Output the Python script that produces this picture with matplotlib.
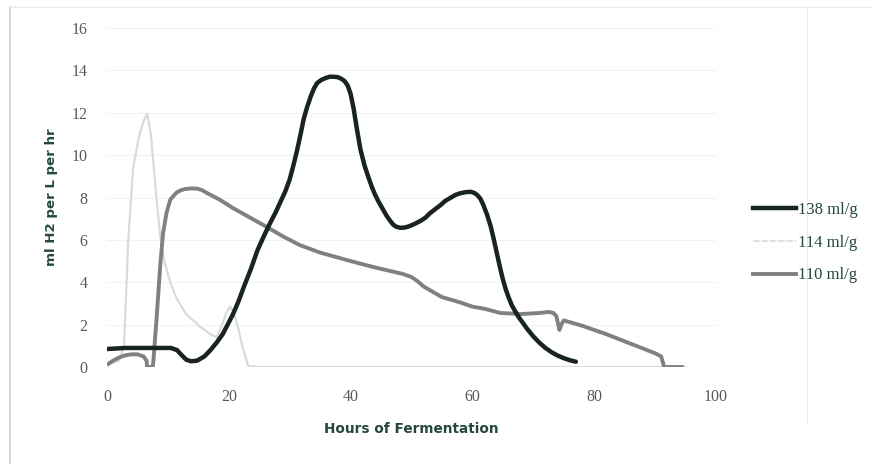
import matplotlib.pyplot as plt
from matplotlib.lines import Line2D

# --- data ---
hours_138 = [0, 3, 6, 9, 10.5, 11.5, 12.3, 13, 13.8, 14.8, 16, 17, 18, 19, 20, 20.7, 21.6,
             22.5, 23.6, 24.7, 25.8, 26.8, 27.7, 28.5, 29.3, 30, 30.6, 31.2, 31.8, 32.3, 32.9,
             33.5, 34, 34.5, 35.2, 36, 36.6, 37.2, 37.9, 38.5, 39, 39.5, 40, 40.5, 41, 41.6,
             42.3, 43, 43.5, 44, 44.6, 45.3, 45.9, 46.5, 47, 47.5, 48.2, 48.8, 49.5, 50.5,
             51.5, 52.3, 53, 53.9, 54.8, 55.6, 56.5, 57.2, 58, 58.8, 59.7, 60.3, 60.8, 61.3,
             61.8, 62.4, 63, 63.5, 64, 64.5, 65, 65.5, 66, 66.5, 67, 67.5, 68, 68.5, 69, 70,
             71, 72, 73, 74, 75, 76, 77]
rate_138 = [0.85, 0.9, 0.9, 0.9, 0.9, 0.8, 0.55, 0.35, 0.27, 0.3, 0.5, 0.8, 1.15, 1.55, 2.1,
            2.5, 3.1, 3.8, 4.6, 5.5, 6.2, 6.8, 7.3, 7.8, 8.3, 8.85, 9.5, 10.2, 11.0, 11.7, 12.3,
            12.8, 13.15, 13.4, 13.55, 13.65, 13.7, 13.7, 13.68, 13.6, 13.5, 13.3, 12.9, 12.2,
            11.3, 10.3, 9.5, 8.9, 8.5, 8.15, 7.8, 7.45, 7.15, 6.9, 6.72, 6.62, 6.57, 6.58,
            6.63, 6.75, 6.9, 7.05, 7.25, 7.45, 7.65, 7.85, 8.0, 8.12, 8.2, 8.25, 8.27, 8.22,
            8.12, 7.95, 7.65, 7.2, 6.65, 6.05, 5.4, 4.75, 4.15, 3.65, 3.25, 2.9, 2.65, 2.4,
            2.2, 2.0, 1.8, 1.45, 1.15, 0.9, 0.7, 0.54, 0.42, 0.32, 0.25]

hours_114 = [0, 1, 2, 2.8, 3.5, 4.3, 5.2, 6, 6.6, 7.2, 8, 8.7, 9.5, 10.5, 11.5, 13, 15.3, 17,
             18, 18.8, 19.5, 20.2, 20.8, 21.5, 22.3, 23.2, 25, 40, 60, 75, 92, 95]
rate_114 = [0.15, 0.2, 0.3, 1.0, 6.0, 9.4, 10.8, 11.6, 11.95, 11.0, 8.4, 6.3, 4.9, 3.9, 3.2,
            2.5, 1.9, 1.55, 1.4, 1.9, 2.5, 2.85, 2.6, 1.9, 0.9, 0.05, 0, 0, 0, 0, 0, 0]

hours_110 = [0, 1, 2, 3, 4, 5, 6, 6.5, 6.6, 7.5, 7.6, 8.2, 8.7, 9.2, 9.8, 10.4, 11, 11.5,
             12.2, 12.8, 13.8, 14.8, 15.6, 16.5, 18.5, 20.7, 23.5, 26.3, 29, 31.7, 35, 40, 44,
             47, 48.5, 50, 51, 52, 55, 58, 60, 62, 64.6, 68, 71, 72.5, 73.3, 73.8, 74.1, 74.3,
             74.6, 75, 78, 82, 86, 90, 91, 91.5, 93, 94.7]
rate_110 = [0.1, 0.3, 0.45, 0.55, 0.6, 0.6, 0.5, 0.3, 0.0, 0.0, 0.2, 2.5, 4.6, 6.3, 7.3,
            7.9, 8.1, 8.25, 8.35, 8.4, 8.43, 8.42, 8.35, 8.2, 7.9, 7.5, 7.05, 6.6, 6.15, 5.75,
            5.4, 5.0, 4.7, 4.5, 4.4, 4.25, 4.05, 3.8, 3.3, 3.05, 2.85, 2.75, 2.55, 2.5, 2.55,
            2.6, 2.55, 2.4, 2.0, 1.75, 2.0, 2.2, 1.95, 1.55, 1.1, 0.65, 0.5, 0.0, 0.0, 0.0]

labels = ['138 ml/g', '114 ml/g', '110 ml/g']
colors = ['#18241d', '#dadada', '#808080']
widths = [3.2, 1.6, 2.8]

label_color = '#24483a'
tick_color = '#595959'

fig = plt.figure(figsize=(8.71, 4.66), dpi=100)
ax = fig.add_axes([0.1228, 0.2124, 0.6992, 0.7275])

ax.plot(hours_110, rate_110, color=colors[2], linewidth=widths[2], solid_capstyle='butt',
        solid_joinstyle='round', zorder=3)
ax.plot(hours_114, rate_114, color=colors[1], linewidth=widths[1], solid_joinstyle='round',
        zorder=2)
ax.plot(hours_138, rate_138, color=colors[0], linewidth=widths[0], solid_capstyle='round',
        solid_joinstyle='round', zorder=4)

ax.set_xlim(0, 100)
ax.set_ylim(0, 16)
ax.set_xticks(range(0, 101, 20))
ax.set_yticks(range(0, 17, 2))
ax.grid(axis='y', color='#f2f2f2', linewidth=0.8)
ax.set_axisbelow(True)
for s in ax.spines.values():
    s.set_visible(False)
ax.tick_params(length=0, labelsize=11.5, colors=tick_color)
ax.tick_params(axis='y', pad=14)
ax.tick_params(axis='x', pad=16)
for t in ax.get_xticklabels() + ax.get_yticklabels():
    t.set_family('Liberation Serif')

ax.set_xlabel('Hours of Fermentation', fontsize=9.8, color=label_color,
              fontweight='bold', labelpad=12)
ax.set_ylabel('ml H2 per L per hr', fontsize=9.6, color=label_color,
              fontweight='bold', labelpad=10)

handles = [Line2D([], [], color=c, linewidth=w) for c, w in zip(colors, widths)]
handles[1] = Line2D([], [], color=colors[1], linewidth=1.2, linestyle=(0, (4, 1)))
leg = fig.legend(handles, labels, loc='center left', bbox_to_anchor=(0.847, 0.479),
                 frameon=False, handlelength=2.6, handletextpad=0.1, labelspacing=1.0,
                 prop={'family': 'Liberation Serif', 'size': 12})
for t in leg.get_texts():
    t.set_color(label_color)

# chart frame and faint stray line
fig.add_artist(Line2D([0.0115, 0.0115], [0.006, 0.985], color='#c9d2cc', linewidth=1.2))
fig.add_artist(Line2D([0.0115, 1.0], [0.985, 0.985], color='#e6ebe8', linewidth=1.0))
fig.add_artist(Line2D([0.927, 0.927], [0.09, 0.985], color='#ececec', linewidth=0.8))

fig.savefig('out.png', dpi=100)
